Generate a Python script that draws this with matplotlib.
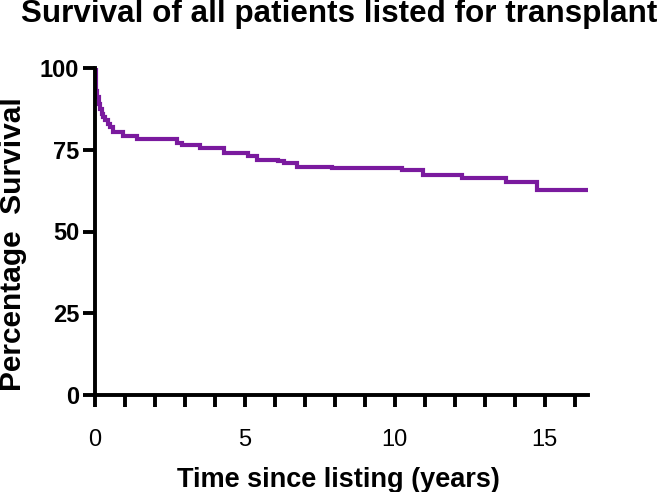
import matplotlib
matplotlib.use("Agg")
import matplotlib.pyplot as plt
from matplotlib.ticker import MultipleLocator

plt.rcParams['font.family'] = ['Liberation Sans', 'DejaVu Sans']

# Kaplan-Meier style survival (years, percent)
years = [0, 0.02, 0.05, 0.08, 0.12, 0.17, 0.22, 0.28, 0.35, 0.42, 0.5, 0.6,
         0.94, 1.39, 2.72, 2.9, 3.5, 4.3, 5.1, 5.4, 6.1, 6.3, 6.75, 7.9,
         10.25, 10.95, 12.25, 13.7, 14.75, 16.45]
survival = [100, 96, 93, 91, 89, 87.5, 86, 85, 84, 83, 82, 80.5,
            79.3, 78.4, 77, 76.3, 75.4, 74.1, 73.2, 72.0, 71.5, 70.8, 69.8, 69.3,
            68.8, 67.3, 66.3, 65.0, 62.8, 62.8]

x_ticks = [0, 5, 10, 15]
y_ticks = [0, 25, 50, 75, 100]

fig = plt.figure(figsize=(6.64, 4.92), dpi=100)
ax = fig.add_axes([95 / 664, 1 - 395 / 492, (588 - 95) / 664, (395 - 68) / 492])

ax.step(years, survival, where='post', color='#7a1a9e', linewidth=3.0,
        solid_joinstyle='miter')

ax.set_xlim(0, 16.45)
ax.set_ylim(0, 100)
ax.set_xticks(x_ticks)
ax.set_yticks(y_ticks)
ax.xaxis.set_minor_locator(MultipleLocator(1))

for s in ['top', 'right']:
    ax.spines[s].set_visible(False)
for s in ['left', 'bottom']:
    ax.spines[s].set_linewidth(2.8)

ax.tick_params(axis='both', which='both', width=2.8, length=8.5, direction='out')
ax.tick_params(axis='x', which='major', labelsize=17, pad=16)
ax.tick_params(axis='y', which='major', labelsize=17, pad=3)
for lab in ax.get_yticklabels():
    lab.set_fontweight('bold')

fig.text(338 / 664, 1 - 487 / 492, 'Time since listing (years)',
         ha='center', va='baseline', fontsize=19.5, fontweight='bold')
fig.text(13.5 / 664, 1 - 244 / 492, 'Percentage  Survival', rotation=90,
         ha='center', va='center', fontsize=21.5, fontweight='bold')
fig.text(339 / 664, 1 - 22 / 492, 'Survival of all patients listed for transplant',
         ha='center', va='baseline', fontsize=22.6, fontweight='bold')

fig.savefig('out.png', dpi=100)
